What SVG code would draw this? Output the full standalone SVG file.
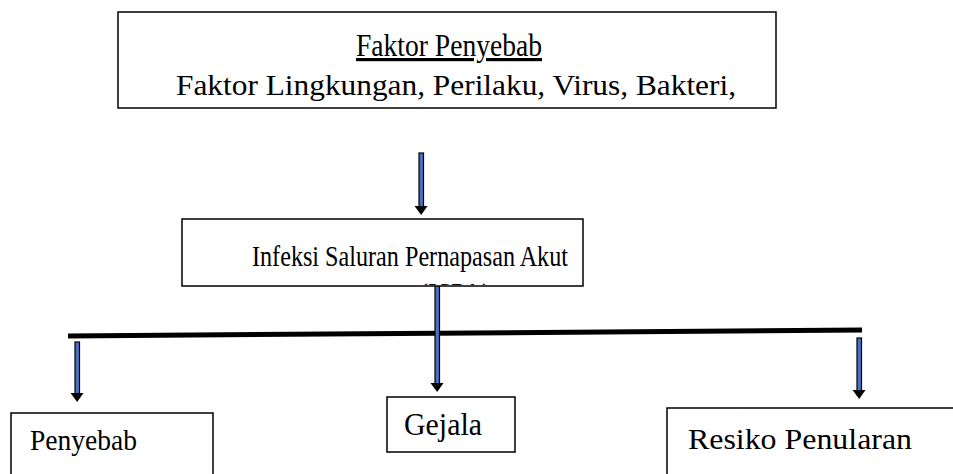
<svg xmlns="http://www.w3.org/2000/svg" width="953" height="474" viewBox="0 0 953 474">
<style>
.box{fill:#fff;stroke:#000;stroke-width:1.5}
.shaft{fill:#4472C4;stroke:#000;stroke-width:1.2}
.head{fill:#000}
text{font-family:'Liberation Serif','Times New Roman',Times,'DejaVu Serif',serif;fill:#000}
</style>
<defs>
<clipPath id="clipIspa"><rect x="183" y="220" width="400" height="65"/></clipPath>
</defs>
<rect width="953" height="474" fill="#fff"/>
<g id="connectors">
<line x1="68" y1="336" x2="862" y2="330" stroke="#000" stroke-width="5"/>
<g id="arrow-top">
<rect class="shaft" x="419" y="153" width="4.5" height="54"/>
<polygon class="head" points="414.5,206 427.5,206 421.2,215"/>
</g>
<g id="arrow-mid">
<rect class="shaft" x="435" y="278" width="4.5" height="106"/>
<polygon class="head" points="430.5,383 443.5,383 437.2,392"/>
</g>
<g id="arrow-left">
<rect class="shaft" x="75" y="342" width="4.5" height="52"/>
<polygon class="head" points="70.5,393 83.5,393 77.2,402"/>
</g>
<g id="arrow-right">
<rect class="shaft" x="857" y="338" width="4.5" height="53"/>
<polygon class="head" points="852.5,390 865.5,390 859.2,399"/>
</g>
</g>
<g id="node-faktor">
<rect class="box" x="118" y="12" width="658" height="96"/>
<text x="449" y="56" font-size="32" text-anchor="middle" text-decoration="underline" textLength="186" lengthAdjust="spacingAndGlyphs">Faktor Penyebab</text>
<text x="456" y="95" font-size="30" text-anchor="middle" textLength="560" lengthAdjust="spacingAndGlyphs">Faktor Lingkungan, Perilaku, Virus, Bakteri,</text>
</g>
<g id="node-ispa">
<rect class="box" x="182" y="219" width="401" height="67"/>
<text x="252" y="266" font-size="29" textLength="316" lengthAdjust="spacingAndGlyphs">Infeksi Saluran Pernapasan Akut</text>
<text x="455" y="301" font-size="26" text-anchor="middle" clip-path="url(#clipIspa)">(ISPA)</text>
</g>
<g id="node-penyebab">
<rect class="box" x="11" y="413" width="202" height="80"/>
<text x="30" y="450" font-size="30" textLength="107" lengthAdjust="spacingAndGlyphs">Penyebab</text>
</g>
<g id="node-gejala">
<rect class="box" x="387" y="397" width="128" height="55"/>
<text x="404" y="435" font-size="31" textLength="78" lengthAdjust="spacingAndGlyphs">Gejala</text>
</g>
<g id="node-resiko">
<rect class="box" x="667" y="408" width="300" height="80"/>
<text x="688" y="449" font-size="30" textLength="224" lengthAdjust="spacingAndGlyphs">Resiko Penularan</text>
</g>
</svg>
